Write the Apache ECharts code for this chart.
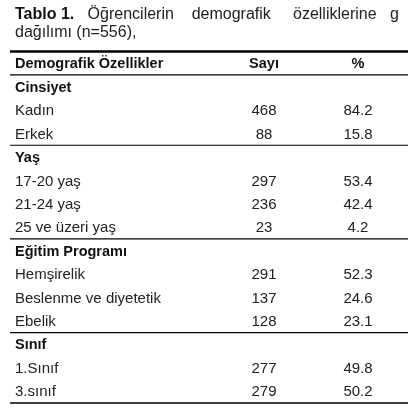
<!DOCTYPE html>
<html><head><meta charset="utf-8">
<script src="https://cdn.jsdelivr.net/npm/echarts@6/dist/echarts.min.js"></script>
<style>html,body{margin:0;padding:0;background:#fff}#c{width:420px;height:409px}</style>
</head><body><div id="c"></div>
<script>
const headers = ['Demografik Özellikler', 'Sayı', '%'];
const rowLabels = ['Cinsiyet','Kadın','Erkek','Yaş','17-20 yaş','21-24 yaş','25 ve üzeri yaş','Eğitim Programı','Hemşirelik','Beslenme ve diyetetik','Ebelik','Sınıf','1.Sınıf','3.sınıf'];
const counts = ['', '468', '88', '', '297', '236', '23', '', '291', '137', '128', '', '277', '279'];
const percents = ['', '84.2', '15.8', '', '53.4', '42.4', '4.2', '', '52.3', '24.6', '23.1', '', '49.8', '50.2'];
const sectionRows = [0, 3, 7, 11];
const ruleAfter = [-1, 2, 6, 10, 13]; // -1 = header row
const colX = [5, 254, 348];
const colAlign = ['left', 'center', 'center'];

const rows = ['__header'].concat(rowLabels);
const data = rows.map((r, i) => [i]);
const font = 'Liberation Sans, Arial, sans-serif';

const chart = echarts.init(document.getElementById('c'));
chart.setOption({
  animation: false,
  title: {
    left: 10, top: 1, itemGap: 0,
    text: '{b|Tablo 1.}   Öğrencilerin    demografik     özelliklerine   g\ndağılımı (n=556),',
    textStyle: { fontFamily: font, fontSize: 16, fontWeight: 'normal', color: '#222', lineHeight: 18,
      rich: { b: { fontFamily: font, fontSize: 16, fontWeight: 'bold', color: '#111' } } }
  },
  grid: { left: 10, right: 12, top: 51.5, bottom: 6 },
  xAxis: { type: 'value', min: 0, max: 398, show: false },
  yAxis: { type: 'category', data: rows, inverse: true, show: false },
  series: [{
    type: 'custom',
    data: data,
    renderItem: function (params, api) {
      const i = api.value(0);
      const c = api.coord([0, i]);
      const bw = api.size([0, 1])[1];
      const x0 = api.coord([0, 0])[0], x1 = api.coord([398, 0])[0];
      const y = c[1];
      const children = [];
      let texts, bold;
      if (i === 0) { texts = headers; bold = true; }
      else { const k = i - 1; texts = [rowLabels[k], counts[k], percents[k]]; bold = sectionRows.indexOf(k) >= 0; }
      texts.forEach((t, j) => {
        if (!t) return;
        children.push({ type: 'text', style: {
          x: api.coord([colX[j], 0])[0], y: y + 1, text: t, align: colAlign[j], verticalAlign: 'middle',
          font: (bold ? 'bold ' : '') + (bold ? '14.5px ' : '15px ') + font, fill: bold ? '#111' : '#222' } });
      });
      if (i === 0) {
        children.push({ type: 'line', shape: { x1: x0, y1: y - bw / 2, x2: x1, y2: y - bw / 2 }, style: { stroke: '#000', lineWidth: 2.5 } });
      }
      if (ruleAfter.indexOf(i - 1) >= 0) {
        const yl = y + bw / 2;
        children.push({ type: 'line', shape: { x1: x0, y1: yl, x2: x1, y2: yl }, style: { stroke: '#000', lineWidth: i - 1 === 13 ? 1.5 : 1.2 } });
      }
      return { type: 'group', children: children };
    }
  }]
});
</script></body></html>
